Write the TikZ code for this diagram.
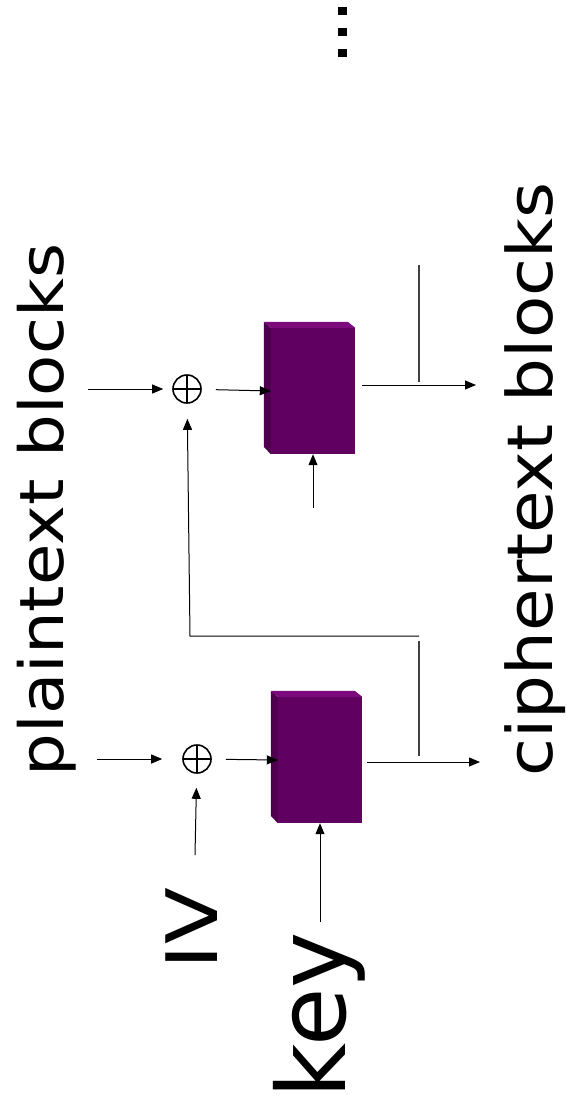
\documentclass[tikz,border=0pt]{standalone}
\usepackage{fontspec}
\setmainfont{DejaVu Sans}
\usetikzlibrary{arrows.meta,calc}

\definecolor{cipherfront}{RGB}{96,0,96}
\definecolor{ciphertop}{RGB}{124,10,124}
\definecolor{cipherside}{RGB}{78,0,78}

\tikzset{
  conn/.style={line width=1pt, draw=black},
  arr/.style={conn, -{Triangle[length=11pt,width=9pt]}},
  feed/.style={line width=1.4pt, draw=black!75},
  xorsym/.style={circle, draw, line width=1.6pt, minimum size=28pt, inner sep=0pt,
    path picture={\draw[line width=1.6pt] (path picture bounding box.north) -- (path picture bounding box.south)
      (path picture bounding box.west) -- (path picture bounding box.east);}},
  cipherbox/.style={rectangle, fill=cipherfront, minimum width=84pt, minimum height=126pt, inner sep=0pt},
  label/.style={rotate=90, anchor=base, inner sep=0pt, text=black},
  dotsq/.style={fill=black, minimum width=9pt, minimum height=8pt, inner sep=0pt},
}

% side and top faces of a block cipher box
\newcommand{\boxfaces}[1]{%
  \fill[cipherside] (#1.north west) -- ++(-7,-6) -- ++(0,125) -- (#1.south west) -- cycle;
  \fill[ciphertop] (#1.north west) -- ++(-7,-6) -- ++(84,0) -- (#1.north east) -- cycle;
}

\begin{document}
\begin{tikzpicture}[x={(1pt,0pt)}, y={(0pt,-1pt)}]
\useasboundingbox (0,0) rectangle (566,1120);

% continuation dots
\node[dotsq] (d1) at (342.5,11) {};
\node[dotsq] (d2) at (342.5,32) {};
\node[dotsq] (d3) at (342.5,53) {};

% labels
\node[label, font=\fontsize{61}{61}\selectfont] (pt) at (63,510) {\scalebox{1.105}[1]{plaintext blocks}};
\node[label, font=\fontsize{63}{63}\selectfont] (ct) at (552,479.5) {\scalebox{1.098}[1]{ciphertext blocks}};
\node[label, font=\fontsize{71}{71}\selectfont] (ivl) at (217,928.5) {\scalebox{1.17}[1]{IV}};
\node[label, font=\fontsize{95}{95}\selectfont] (keyl) at (345,1015.5) {key};

% XOR nodes
\node[xorsym] (x2) at (187,389) {};
\node[xorsym] (x1) at (197,759) {};

% block cipher boxes
\node[cipherbox] (e2) at (313,391) {};
\node[cipherbox] (e1) at (320,760) {};
\boxfaces{e2}
\boxfaces{e1}

% free ends of connectors
\coordinate (p2) at (88,389);
\coordinate (p1) at (97,759);
\coordinate (iv) at (195,855);
\coordinate (k2) at (313,508);
\coordinate (k1) at (320,922);
\coordinate (o2s) at (362,385);
\coordinate (o2) at (476,385);
\coordinate (o1s) at (367,762);
\coordinate (o1) at (480,762);
\coordinate (f2t) at (419,265);
\coordinate (f2b) at (419,382);
\coordinate (f1t) at (419,641);
\coordinate (f1b) at (419,756);
\coordinate (fbr) at (419,636);
\coordinate (fbl) at (190,636);

% first block
\draw[arr, shorten >=20pt] (p1) -- (x1);
\draw[arr, shorten >=14pt] (iv) -- (x1);
\draw[arr, shorten <=14pt] (x1) -- (e1.west);
\draw[arr] (k1) -- (e1.south);
\draw[arr] (o1s) -- (o1);
\draw[feed] (f1t) -- (f1b);
\draw[arr, shorten >=15pt] (fbr) -- (fbl) -- (x2);

% second block
\draw[arr, shorten >=9pt] (p2) -- (x2);
\draw[arr, shorten <=14pt] (x2) -- (e2.west);
\draw[arr] (k2) -- (e2.south);
\draw[arr] (o2s) -- (o2);
\draw[feed] (f2t) -- (f2b);

\end{tikzpicture}
\end{document}
